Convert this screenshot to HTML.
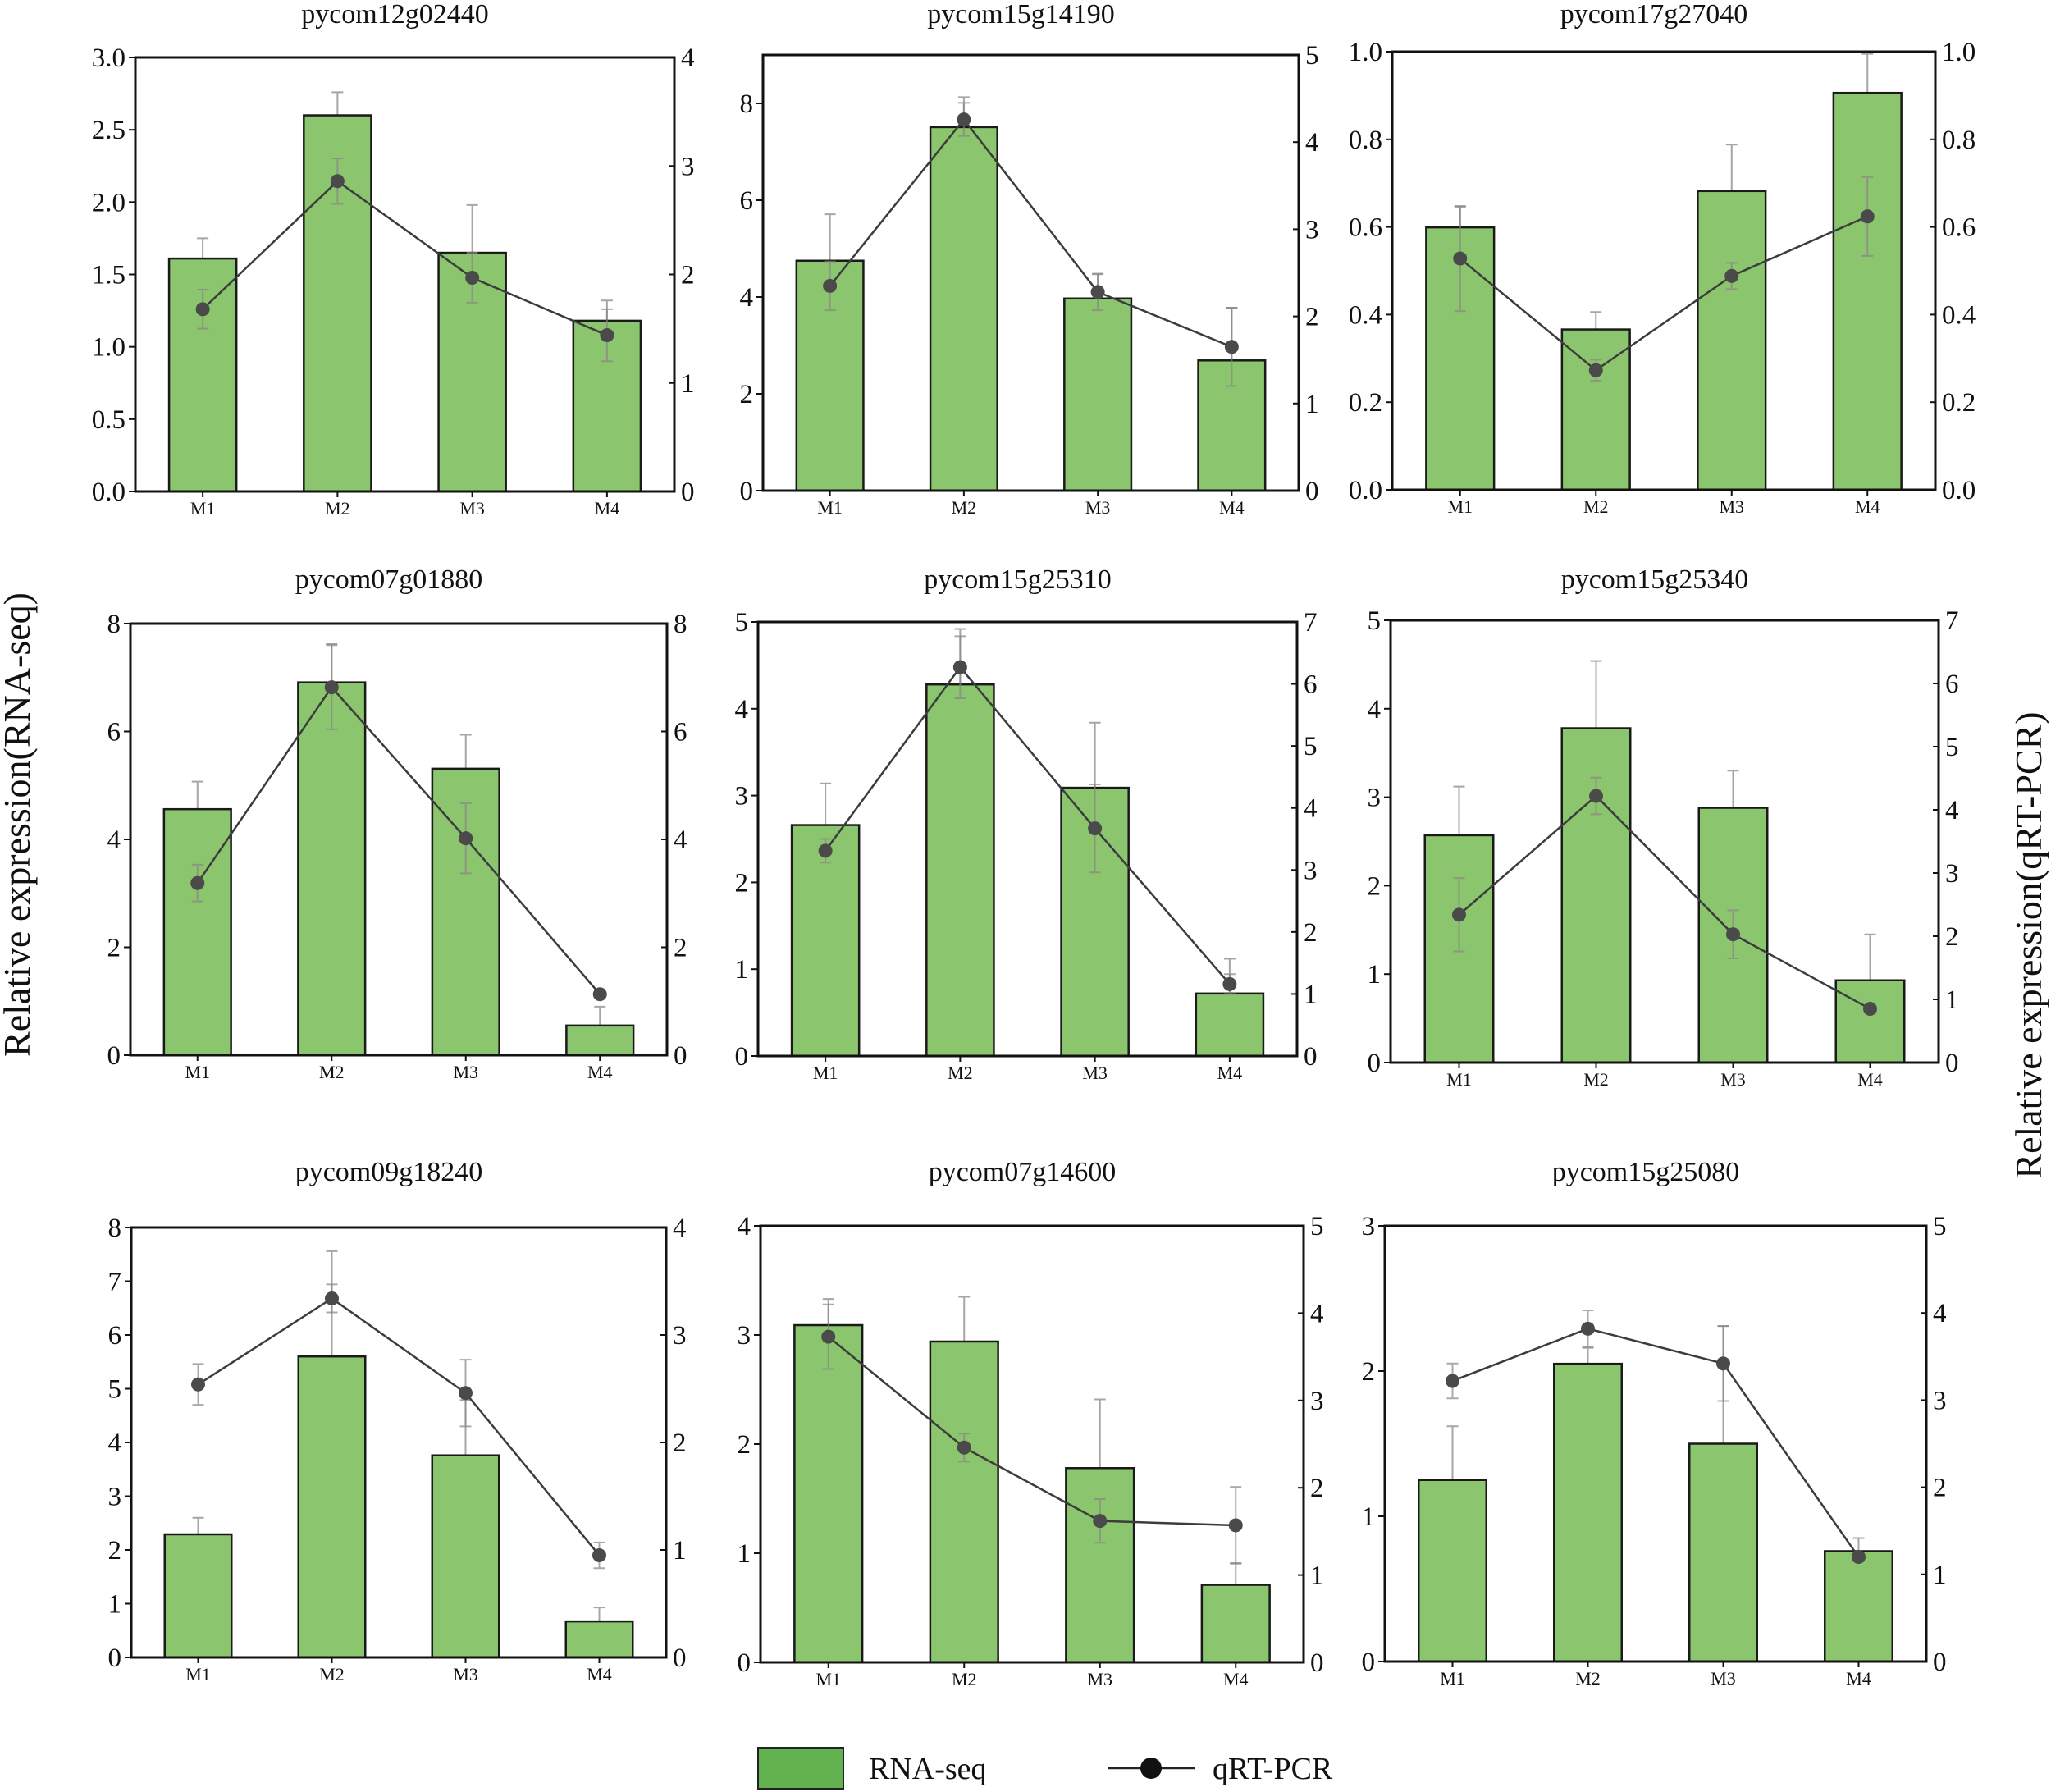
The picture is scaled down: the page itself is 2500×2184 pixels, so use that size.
<!DOCTYPE html>
<html><head><meta charset="utf-8">
<style>
html,body{margin:0;padding:0;background:#fff;}
svg{display:block;}
text{font-family:"Liberation Serif",serif;fill:#111;}
</style></head>
<body>
<svg id="fig" width="2500" height="2184" viewBox="0 0 2500 2184" xmlns="http://www.w3.org/2000/svg" font-family="Liberation Serif, serif">
<text x="0" y="0" transform="translate(36,1005) rotate(-90)" text-anchor="middle" font-size="46" font-family="Liberation Serif, serif">Relative expression(RNA-seq)</text>
<text x="0" y="0" transform="translate(2488,1152) rotate(-90)" text-anchor="middle" font-size="46" font-family="Liberation Serif, serif">Relative expression(qRT-PCR)</text>
<g>
<rect x="924" y="2130" width="104" height="50" fill="#62b24f" stroke="#222" stroke-width="2"/>
<text x="1059" y="2168" font-size="38" font-family="Liberation Serif, serif">RNA-seq</text>
<line x1="1350" y1="2155" x2="1456" y2="2155" stroke="#222" stroke-width="2.5"/>
<circle cx="1403" cy="2155" r="13" fill="#111"/>
<text x="1478" y="2168" font-size="38" font-family="Liberation Serif, serif">qRT-PCR</text>
</g>
</svg>
<script>
const titles=["pycom12g02440","pycom15g14190","pycom17g27040","pycom07g01880","pycom15g25310","pycom15g25340","pycom09g18240","pycom07g14600","pycom15g25080"];
const categories=["M1","M2","M3","M4"];
const leftMax=[3,9,1,8,5,5,8,4,3];
const rightMax=[4,5,1,8,7,7,4,5,5];
const leftTicks=[[0,0.5,1,1.5,2,2.5,3],[0,2,4,6,8],[0,0.2,0.4,0.6,0.8,1],[0,2,4,6,8],[0,1,2,3,4,5],[0,1,2,3,4,5],[0,1,2,3,4,5,6,7,8],[0,1,2,3,4],[0,1,2,3]];
const rightTicks=[[0,1,2,3,4],[0,1,2,3,4,5],[0,0.2,0.4,0.6,0.8,1],[0,2,4,6,8],[0,1,2,3,4,5,6,7],[0,1,2,3,4,5,6,7],[0,1,2,3,4],[0,1,2,3,4,5],[0,1,2,3,4,5]];
const leftDecimals=[1,0,1,0,0,0,0,0,0];
const rightDecimals=[0,0,1,0,0,0,0,0,0];
const rnaSeq=[[1.61,2.60,1.65,1.18],[4.75,7.51,3.97,2.69],[0.599,0.366,0.682,0.906],[4.56,6.91,5.31,0.55],[2.66,4.28,3.09,0.72],[2.57,3.78,2.88,0.93],[2.29,5.60,3.76,0.67],[3.09,2.94,1.78,0.71],[1.25,2.05,1.50,0.76]];
const rnaErr=[[0.14,0.16,0.33,0.14],[0.96,0.62,0.5,1.09],[0.047,0.04,0.106,0.089],[0.51,0.71,0.63,0.35],[0.48,0.64,0.75,0.40],[0.55,0.76,0.42,0.52],[0.31,1.96,1.03,0.26],[0.24,0.41,0.63,0.20],[0.37,0.11,0.81,0.09]];
const qpcr=[[1.68,2.86,1.97,1.44],[2.35,4.26,2.28,1.65],[0.528,0.273,0.488,0.624],[3.19,6.82,4.02,1.13],[3.31,6.27,3.67,1.16],[2.34,4.22,2.03,0.85],[2.54,3.34,2.46,0.95],[3.73,2.46,1.62,1.57],[3.22,3.82,3.42,1.20]];
const qpcrErr=[[0.18,0.21,0.23,0.24],[0.28,0.19,0.21,0.45],[0.12,0.024,0.03,0.09],[0.34,0.78,0.65,0],[0.19,0.5,0.71,0.16],[0.58,0.29,0.38,0],[0.19,0.13,0.31,0.12],[0.37,0.16,0.25,0.44],[0.2,0.21,0.43,0.05]];

const frames=[[165,70,822,599],[930,67,1583,598],[1697,63,2359,597],[159,760,813,1286],[924,758,1581,1287],[1695,756,2363,1295],[160,1496,812,2020],[927,1494,1589,2026],[1688,1494,2348,2025]];
const titleY=[28,28,28,717,717,717,1439,1439,1439];

const NS="http://www.w3.org/2000/svg";
const FF="Liberation Serif, serif";
const svg=document.getElementById('fig');
function mk(tag,attrs,parent){const e=document.createElementNS(NS,tag);for(const k in attrs)e.setAttribute(k,attrs[k]);(parent||svg).appendChild(e);return e;}

for(let p=0;p<9;p++){
  const [L,T,R,B]=frames[p];
  const W=R-L,H=B-T;
  const xAt=i=>L+W*(i+0.5)/categories.length;
  const yL=v=>B-v/leftMax[p]*H;
  const yR=v=>B-v/rightMax[p]*H;
  const bw=W/8;
  const g=mk('g',{});
  
  
  const t=mk('text',{x:(L+R)/2-12,y:titleY[p],'text-anchor':'middle','font-size':34,'font-family':FF},g);
  t.textContent=titles[p];
  
  
  for(let i=0;i<4;i++){
    const x=xAt(i),y1=yL(rnaSeq[p][i]),y2=yL(rnaSeq[p][i]+rnaErr[p][i]);
    const e=mk('path',{d:`M${x},${y1}V${y2}M${x-7},${y2}H${x+7}`,stroke:'#aaa4a4','stroke-width':2,fill:'none'},g);
    
    
  }
  for(let i=0;i<4;i++){
    const y=yL(rnaSeq[p][i]);
    const r=mk('rect',{x:xAt(i)-bw/2,y:y,width:bw,height:B-y,fill:'#8bc56e',stroke:'#1a1a1a','stroke-width':2.5},g);
    
    
  }
  for(let i=0;i<4;i++){
    if(qpcrErr[p][i]<=0)continue;
    const x=xAt(i),y1=yR(qpcr[p][i]-qpcrErr[p][i]),y2=yR(qpcr[p][i]+qpcrErr[p][i]);
    const e=mk('path',{d:`M${x},${y1}V${y2}M${x-7},${y2}H${x+7}M${x-7},${y1}H${x+7}`,stroke:'#8c8484','stroke-opacity':0.7,'stroke-width':2,fill:'none'},g);
    
    
  }
  const pts=qpcr[p].map((v,i)=>xAt(i)+','+yR(v)).join(' ');
  const pl=mk('polyline',{points:pts,fill:'none',stroke:'#3c3c3c','stroke-width':2.5},g);
  
  
  for(let i=0;i<4;i++){
    const c=mk('circle',{cx:xAt(i),cy:yR(qpcr[p][i]),r:8.5,fill:'#4a4a4a'},g);
    
    
  }
  const f=mk('rect',{x:L,y:T,width:W,height:H,fill:'none',stroke:'#111','stroke-width':3},g);
  
  
  leftTicks[p].forEach(v=>{
    const y=yL(v);
    mk('line',{x1:L-8,y1:y,x2:L,y2:y,stroke:'#111','stroke-width':2},g);
    const tx=mk('text',{x:L-12,y:y+11,'text-anchor':'end','font-size':33,'font-family':FF},g);
    tx.textContent=v.toFixed(leftDecimals[p]);
    
    
  });
  rightTicks[p].forEach(v=>{
    const y=yR(v);
    mk('line',{x1:R-7,y1:y,x2:R,y2:y,stroke:'#111','stroke-width':2},g);
    const tx=mk('text',{x:R+8,y:y+11,'text-anchor':'start','font-size':33,'font-family':FF},g);
    tx.textContent=v.toFixed(rightDecimals[p]);
    
    
  });
  categories.forEach((c,i)=>{
    mk('line',{x1:xAt(i),y1:B,x2:xAt(i),y2:B+7,stroke:'#111','stroke-width':2},g);
    const tx=mk('text',{x:xAt(i),y:B+28,'text-anchor':'middle','font-size':22,'font-family':FF},g);
    tx.textContent=c;
    
    
  });
}
</script>
</body></html>
